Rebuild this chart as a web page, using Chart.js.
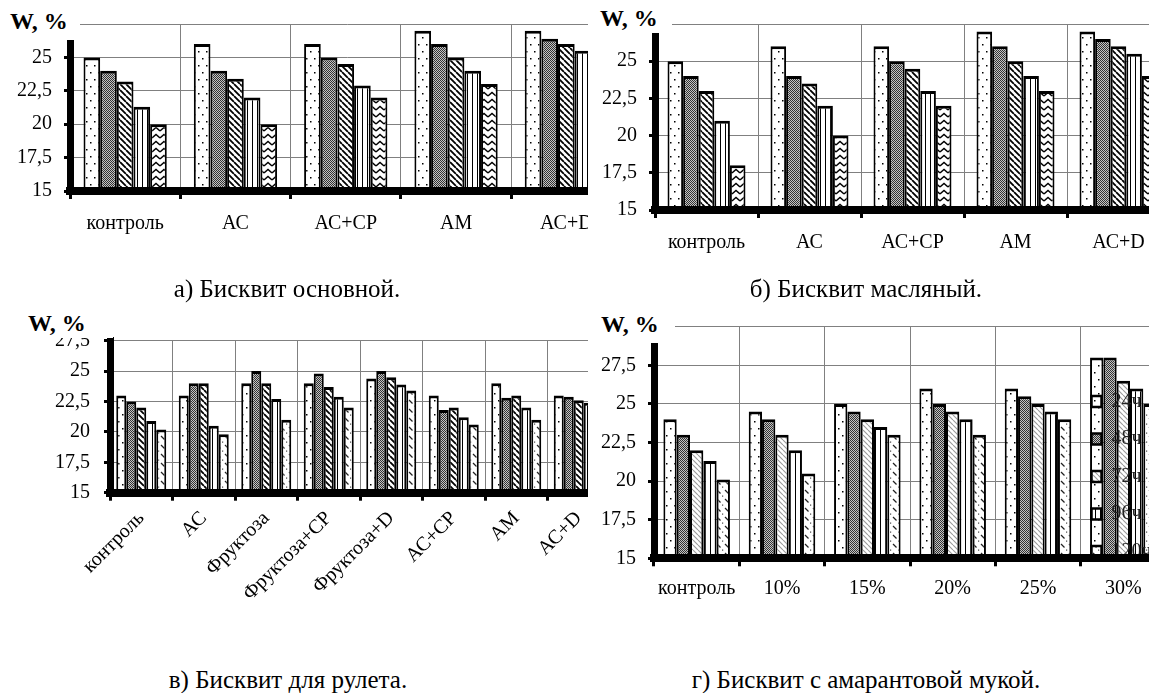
<!DOCTYPE html>
<html>
<head>
<meta charset="utf-8">
<script src="https://cdn.jsdelivr.net/npm/chart.js@4.4.0/dist/chart.umd.min.js"></script>
<style>
  body { margin: 0; width: 1149px; height: 693px; background: #fff; position: relative; overflow: hidden;
         font-family: 'Liberation Serif', 'Times New Roman', serif; }
  .panel { position: absolute; overflow: hidden; background: #fff; }
  .panel canvas { position: absolute; left: 0; top: 0; }
  .wbox { position: absolute; background: #fff; z-index: 5; }
  .wbox span { position: absolute; font: bold 24px/24px 'Liberation Serif', serif; white-space: nowrap; }
  .cap { position: absolute; width: 400px; text-align: center; font: 25px/25px 'Liberation Serif', serif; white-space: nowrap; }
</style>
</head>
<body>

<div class="panel" style="left:0;top:0;width:588px;height:260px;">
  <canvas id="chA" width="640" height="260"></canvas>
</div>
<div class="panel" style="left:588px;top:0;width:561px;height:260px;">
  <canvas id="chB" width="600" height="260"></canvas>
</div>
<div class="panel" style="left:0;top:300px;width:588px;height:340px;">
  <canvas id="chC" width="640" height="340"></canvas>
</div>
<div class="panel" style="left:588px;top:300px;width:561px;height:300px;">
  <canvas id="chD" width="600" height="300"></canvas>
</div>

<div class="wbox" style="left:0;top:0;width:80px;height:40px;"><span style="left:10px;top:9px;">W, %</span></div>
<div class="wbox" style="left:590px;top:0;width:82px;height:33px;"><span style="left:10px;top:6px;">W, %</span></div>
<div class="wbox" style="left:0;top:300px;width:113px;height:38px;"><span style="left:28px;top:11px;">W, %</span></div>
<div class="wbox" style="left:590px;top:300px;width:85px;height:43px;"><span style="left:11px;top:12px;">W, %</span></div>

<div class="cap" style="left:87px;top:276px;">а) Бисквит основной.</div>
<div class="cap" style="left:666px;top:276px;">б) Бисквит масляный.</div>
<div class="cap" style="left:88px;top:667px;">в) Бисквит для рулета.</div>
<div class="cap" style="left:666px;top:667px;">г) Бисквит с амарантовой мукой.</div>

<script>
// ==========================
// DATA
// ==========================
var seriesLabels = ['24ч', '48ч', '72ч', '96ч', '120ч'];

// а) Бисквит основной
var catsA = ['контроль', 'АС', 'АС+СР', 'АМ', 'АС+D'];
var a24  = [25, 26, 26, 27, 27];
var a48  = [24, 24, 25, 26, 26.4];
var a72  = [23.2, 23.4, 24.5, 25, 26];
var a96  = [21.3, 22, 22.9, 24, 25.5];
var a120 = [20, 20, 22, 23, 24];

// б) Бисквит масляный
var catsB = ['контроль', 'АС', 'АС+СР', 'АМ', 'АС+D'];
var b24  = [25, 26, 26, 27, 27];
var b48  = [24, 24, 25, 26, 26.5];
var b72  = [23, 23.5, 24.5, 25, 26];
var b96  = [21, 22, 23, 24, 25.5];
var b120 = [18, 20, 22, 23, 24];

// в) Бисквит для рулета
var catsC = ['контроль', 'АС', 'Фруктоза', 'Фруктоза+СР', 'Фруктоза+D', 'АС+СР', 'АМ', 'АС+D'];
var c24  = [23, 23, 24, 24, 24.4, 23, 24, 23];
var c48  = [22.5, 24, 25, 24.8, 25, 21.8, 22.8, 22.9];
var c72  = [22, 24, 24, 23.7, 24.5, 22, 23, 22.6];
var c96  = [20.9, 20.5, 22.7, 22.9, 23.9, 21.2, 22, 22.4];
var c120 = [20.2, 19.8, 21, 22, 23.4, 20.6, 21, 22];

// г) Бисквит с амарантовой мукой
var catsD = ['контроль', '10%', '15%', '20%', '25%', '30%'];
var d24  = [24, 24.5, 25, 26, 26, 28];
var d48  = [23, 24, 24.5, 25, 25.5, 28];
var d72  = [22, 23, 24, 24.5, 25, 26.5];
var d96  = [21.3, 22, 23.5, 24, 24.5, 26];
var d120 = [20.1, 20.5, 23, 23, 24, 25];

// ==========================
// PATTERNS
// ==========================
function makePattern(w, h, draw) {
  var c = document.createElement('canvas');
  c.width = w; c.height = h;
  var g = c.getContext('2d');
  g.fillStyle = '#fff';
  g.fillRect(0, 0, w, h);
  draw(g, w, h);
  return g.createPattern(c, 'repeat');
}

var patDots = makePattern(8, 14, function(g) {
  g.fillStyle = '#000';
  g.fillRect(2, 2, 1.5, 1.5);
  g.fillRect(6, 9, 1.5, 1.5);
});
var patChecker = makePattern(2, 2, function(g) {
  g.fillStyle = '#c4c4c4'; g.fillRect(0, 0, 2, 2);
  g.fillStyle = '#333'; g.fillRect(0, 0, 1, 1); g.fillRect(1, 1, 1, 1);
});
function diag(color, size, lw) {
  return makePattern(size, size, function(g, w, h) {
    g.strokeStyle = color; g.lineWidth = lw;
    g.beginPath();
    g.moveTo(-w, 0); g.lineTo(0, h);
    g.moveTo(0, 0);  g.lineTo(w, h);
    g.moveTo(w, 0);  g.lineTo(2 * w, h);
    g.stroke();
  });
}
var patDiagBlack = diag('#000', 6, 1.8);
var patDiagGray  = diag('#9a9a9a', 5, 1.1);
var patVert = makePattern(5, 4, function(g) {
  g.fillStyle = '#000'; g.fillRect(2, 0, 1, 4);
});
var patZigzag = makePattern(8, 7, function(g) {
  g.strokeStyle = '#000'; g.lineWidth = 1.4;
  g.beginPath(); g.moveTo(0, 5); g.lineTo(4, 1.5); g.lineTo(8, 5); g.stroke();
});
var patDash = makePattern(8, 9, function(g) {
  g.strokeStyle = '#222'; g.lineWidth = 1.2;
  g.beginPath(); g.moveTo(1, 1); g.lineTo(4.5, 4.5); g.stroke();
  g.fillStyle = '#444'; g.fillRect(6, 6.5, 1.2, 1.2);
});

var patsTop  = [patDots, patChecker, patDiagBlack, patVert, patZigzag];
var patsRoll = [patDots, patChecker, patDiagBlack, patVert, patDash];
var patsAmar = [patDots, patChecker, patDiagGray, patVert, patDash];

// ==========================
// LEGEND INSIDE THE PLOT (г)
// ==========================
// the legend box is moved onto the last group and drawn again over the bars
var legendPlace = {
  id: 'legendPlace',
  afterLayout: function(chart) {
    var lg = chart.legend;
    var pos = chart.options.plugins.legendPlace;
    if (!lg || !pos || !pos.on) return;
    lg.left = pos.left; lg.top = pos.top;
    lg.right = lg.left + lg.width;
    lg.bottom = lg.top + lg.height;
  },
  afterDatasetsDraw: function(chart) {
    var pos = chart.options.plugins.legendPlace;
    if (chart.legend && pos && pos.on) chart.legend.draw();
  }
};

// ==========================
// CHART BUILDER
// ==========================
var serif = "'Liberation Serif', 'Times New Roman', serif";

function barChart(id, cats, series, pats, o) {
  var datasets = series.map(function(vals, i) {
    return {
      label: seriesLabels[i],
      data: vals,
      backgroundColor: pats[i],
      borderColor: '#000',
      borderWidth: { top: 3, left: 2, right: 2, bottom: 0 },
      categoryPercentage: o.cat,
      barPercentage: 1
    };
  });

  return new Chart(document.getElementById(id), {
    type: 'bar',
    data: { labels: cats, datasets: datasets },
    plugins: [legendPlace],
    options: {
      responsive: false,
      animation: false,
      layout: { padding: { top: o.top, right: o.right, left: 0, bottom: 0 } },
      scales: {
        x: {
          grid: { color: '#808080', lineWidth: 1, tickColor: '#000', tickLength: 8, tickWidth: 3, offset: true },
          border: { color: '#000', width: 8, z: 1 },
          ticks: {
            font: { family: serif, size: 20 }, color: '#000',
            padding: o.xpad, autoSkip: false,
            maxRotation: o.rot, minRotation: o.rot
          },
          afterFit: function(s) { s.height = o.xh; }
        },
        y: {
          min: 15, max: o.max,
          grid: { color: '#808080', lineWidth: 1, tickColor: '#000', tickLength: 6, tickWidth: 3 },
          border: { color: '#000', width: 7 },
          ticks: {
            stepSize: 2.5,
            font: { family: serif, size: 20 }, color: '#000',
            padding: o.ypad,
            callback: function(v) { return String(v).replace('.', ','); }
          },
          afterFit: function(s) { s.width = o.yw; }
        }
      },
      plugins: {
        tooltip: { enabled: false },
        legend: o.legend ? {
          display: true,
          position: 'chartArea',
          align: 'start',
          labels: {
            font: { family: serif, size: 20 }, color: '#222',
            boxWidth: 10, boxHeight: 11, padding: 17.5,
            generateLabels: function(chart) {
              var items = Chart.defaults.plugins.legend.labels.generateLabels(chart);
              items.forEach(function(it) { it.lineWidth = 2.5; });
              return items;
            }
          }
        } : { display: false },
        legendPlace: o.legend ? { on: true, left: 486, top: 74 } : { on: false }
      }
    }
  });
}

barChart('chA', catsA, [a24, a48, a72, a96, a120], patsTop,
  { cat: 0.755, top: 23, right: 18.5, yw: 70, xh: 69, max: 27.5, xpad: 13, ypad: 12, rot: 0 });

barChart('chB', catsB, [b24, b48, b72, b96, b120], patsTop,
  { cat: 0.757, top: 18, right: 18, yw: 67, xh: 50, max: 27.5, xpad: 13, ypad: 12, rot: 0 });

barChart('chC', catsC, [c24, c48, c72, c96, c120], patsRoll,
  { cat: 0.8, top: 40.7, right: 30, yw: 110, xh: 147.3, max: 27.5, xpad: 6, ypad: 14, rot: 45 });

barChart('chD', catsD, [d24, d48, d72, d96, d120], patsAmar,
  { cat: 0.78, top: 26.7, right: 22, yw: 66, xh: 41.7, max: 30, xpad: 10, ypad: 12, rot: 0, legend: true });
</script>
</body>
</html>
